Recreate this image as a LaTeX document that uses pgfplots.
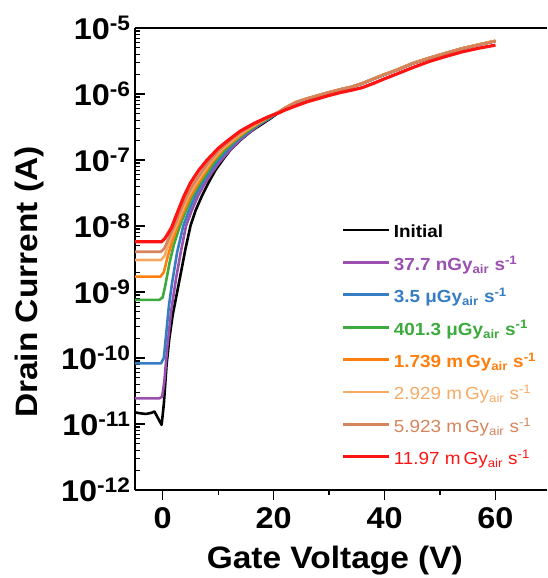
\documentclass[border=0pt]{standalone}
\usepackage{fontspec}
\setmainfont{Liberation Sans}[FakeStretch=1.08]
\usepackage{pgfplots}
\pgfplotsset{compat=1.18}
\definecolor{cpurple}{RGB}{155,80,175}
\definecolor{cblue}{RGB}{55,125,195}
\definecolor{cgreen}{RGB}{60,170,60}
\definecolor{corange}{RGB}{255,127,14}
\definecolor{clorange}{RGB}{248,170,100}
\definecolor{csalmon}{RGB}{214,132,92}
\definecolor{cred}{RGB}{255,20,20}
\begin{document}
\begin{tikzpicture}
\begin{axis}[
  scale only axis, width=412pt, height=462pt,
  ymode=log, log basis y=10,
  xmin=-5, xmax=69.3, ymin=1e-12, ymax=1e-5,
  axis x line=box, axis y line=left,
  every non boxed y axis/.append style={y axis line style={-}},
  axis line style={-, line width=1.6pt},
  xtick pos=left,
  ytick align=inside, xtick align=outside,
  major tick length=10pt, minor tick length=5pt,
  xtick={0,20,40,60}, minor xtick={10,30,50},
  ytick={1e-12,1e-11,1e-10,1e-9,1e-8,1e-7,1e-6,1e-5},
  yticklabels={10\textsuperscript{-12},10\textsuperscript{-11},10\textsuperscript{-10},10\textsuperscript{-9},10\textsuperscript{-8},10\textsuperscript{-7},10\textsuperscript{-6},10\textsuperscript{-5}},
  minor ytick={2e-12,3e-12,4e-12,5e-12,6e-12,7e-12,8e-12,9e-12,
    2e-11,3e-11,4e-11,5e-11,6e-11,7e-11,8e-11,9e-11,
    2e-10,3e-10,4e-10,5e-10,6e-10,7e-10,8e-10,9e-10,
    2e-9,3e-9,4e-9,5e-9,6e-9,7e-9,8e-9,9e-9,
    2e-8,3e-8,4e-8,5e-8,6e-8,7e-8,8e-8,9e-8,
    2e-7,3e-7,4e-7,5e-7,6e-7,7e-7,8e-7,9e-7,
    2e-6,3e-6,4e-6,5e-6,6e-6,7e-6,8e-6,9e-6},
  tick style={line width=1.2pt, black},
  /pgf/number format/assume math mode=true,
  ticklabel style={font=\fontsize{30}{31}\selectfont\bfseries},
  xticklabel style={yshift=-4pt},
  yticklabel style={xshift=-1pt},
  xlabel={Gate Voltage (V)}, ylabel={Drain Current (A)},
  label style={font=\fontsize{31}{32}\selectfont\bfseries},
  x label style={at={(axis description cs:0.485,-0.152)}, anchor=center},
  y label style={at={(axis description cs:-0.255,0.45)}, anchor=center},
  legend style={at={(axis description cs:0.502,0.572)}, anchor=north west,
    draw=none, fill=none, inner sep=0pt, row sep=16.4pt, column sep=3pt,
    font=\fontsize{17.5}{19}\selectfont,
    nodes={inner sep=0pt, text height=12pt, text depth=4pt, anchor=west}},
  legend cell align=left,
  legend image code/.code={\draw[#1, line width=2.8pt] (0pt,4pt) -- (46pt,4pt);},
  every axis plot/.append style={line width=2.6pt, line join=round},
]
% Initial
\addplot[black] coordinates {(-5,1.5e-11)(-4,1.45e-11)(-3,1.42e-11)(-2,1.48e-11)(-1.5,1.55e-11)(-0.2,9.7e-12)(0.2,2e-11)(0.7,8e-11)(1.2,2e-10)(1.8,4.5e-10)(2.5,9e-10)(3.3,2e-9)(4.1,4.5e-9)(5,1e-8)(5.9,1.7e-8)(7.1,2.9e-8)(8.3,4.6e-8)(9.5,7e-8)(10.8,1e-7)(12.2,1.42e-7)(14,2e-7)(16,2.75e-7)(18,3.55e-7)(19.6,4.35e-7)(21,5.3e-7)(22,6e-7)(24,7.4e-7)(26,8.4e-7)(28,9.4e-7)(30,1.05e-6)(32,1.16e-6)(34,1.27e-6)(36,1.44e-6)(38,1.69e-6)(40,1.97e-6)(42,2.27e-6)(45,2.88e-6)(48,3.48e-6)(51,4.13e-6)(54,4.88e-6)(57,5.58e-6)(60,6.33e-6)};
\addlegendentry{\textbf{Initial}}
% 37.7 nGy
\addplot[cpurple] coordinates {(-5,2.45e-11)(-0.6,2.45e-11)(-0.1,2.6e-11)(0.3,4.5e-11)(0.8,1.4e-10)(1.5,5e-10)(2.4,1.6e-9)(3.3,4.2e-9)(4.2,1e-8)(5.2,1.7e-8)(6.4,2.9e-8)(7.6,4.4e-8)(8.9,6.5e-8)(10.2,9.2e-8)(12,1.38e-7)(13.9,2e-7)(15.8,2.7e-7)(17.6,3.5e-7)(19.4,4.35e-7)(21,5.35e-7)(22,6.05e-7)(24,7.45e-7)(26,8.45e-7)(28,9.45e-7)(30,1.055e-6)(32,1.165e-6)(34,1.275e-6)(36,1.445e-6)(38,1.695e-6)(40,1.975e-6)(42,2.275e-6)(45,2.89e-6)(48,3.49e-6)(51,4.14e-6)(54,4.89e-6)(57,5.59e-6)(60,6.34e-6)};
\addlegendentry{\textcolor{cpurple}{\textbf{37.7 nGy\textsubscript{air} s\textsuperscript{-1}}}}
% 3.5 uGy
\addplot[cblue] coordinates {(-5,8.3e-11)(-0.3,8.3e-11)(0.2,1e-10)(0.6,2.2e-10)(1.1,6e-10)(1.7,1.4e-9)(2.6,4e-9)(3.7,1e-8)(4.7,1.7e-8)(5.9,2.9e-8)(7.1,4.4e-8)(8.4,6.5e-8)(9.7,9.2e-8)(11.6,1.4e-7)(13.5,2e-7)(15.5,2.7e-7)(17.4,3.5e-7)(19.3,4.35e-7)(21,5.35e-7)(22,6.1e-7)(24,7.5e-7)(26,8.5e-7)(28,9.5e-7)(30,1.06e-6)(32,1.17e-6)(34,1.28e-6)(36,1.45e-6)(38,1.7e-6)(40,1.98e-6)(42,2.28e-6)(45,2.9e-6)(48,3.5e-6)(51,4.15e-6)(54,4.9e-6)(57,5.6e-6)(60,6.35e-6)};
\addlegendentry{\textcolor{cblue}{\textbf{3.5 μGy\textsubscript{air} s\textsuperscript{-1}}}}
% 401.3 uGy
\addplot[cgreen] coordinates {(-5,7.6e-10)(-0.6,7.6e-10)(0,8.3e-10)(0.5,1.3e-9)(1.2,2.7e-9)(2,5.2e-9)(3.1,1e-8)(4.1,1.65e-8)(5.4,2.9e-8)(6.6,4.3e-8)(8,6.4e-8)(9.3,9.3e-8)(11.2,1.42e-7)(13.2,2e-7)(15.2,2.7e-7)(17.2,3.5e-7)(19.2,4.4e-7)(21,5.35e-7)(22,6.1e-7)(24,7.5e-7)(26,8.5e-7)(28,9.5e-7)(30,1.06e-6)(32,1.17e-6)(34,1.28e-6)(36,1.45e-6)(38,1.7e-6)(40,1.98e-6)(42,2.28e-6)(45,2.9e-6)(48,3.5e-6)(51,4.15e-6)(54,4.9e-6)(57,5.6e-6)(60,6.35e-6)};
\addlegendentry{\textcolor{cgreen}{\textbf{401.3 μGy\textsubscript{air} s\textsuperscript{-1}}}}
% 1.739 mGy
\addplot[corange] coordinates {(-5,1.71e-9)(-0.4,1.71e-9)(0.2,2e-9)(0.8,3.2e-9)(1.6,5.5e-9)(2.7,1e-8)(3.7,1.6e-8)(5,2.8e-8)(6.2,4.2e-8)(7.6,6.4e-8)(9,9.5e-8)(10.9,1.45e-7)(12.9,2e-7)(14.9,2.7e-7)(17,3.5e-7)(19,4.4e-7)(21,5.4e-7)(22,6.15e-7)(24,7.55e-7)(26,8.55e-7)(28,9.55e-7)(30,1.065e-6)(32,1.175e-6)(34,1.285e-6)(36,1.455e-6)(38,1.705e-6)(40,1.99e-6)(42,2.29e-6)(45,2.92e-6)(48,3.52e-6)(51,4.17e-6)(54,4.92e-6)(57,5.63e-6)(60,6.4e-6)};
\addlegendentry{\textcolor{corange}{\textbf{1.739 m\,Gy\textsubscript{air} s\textsuperscript{-1}}}}
% 2.929 mGy
\addplot[clorange] coordinates {(-5,3.05e-9)(-0.3,3.05e-9)(0.3,3.5e-9)(0.9,4.8e-9)(1.6,7e-9)(2.4,1e-8)(3.3,1.55e-8)(4.5,2.7e-8)(5.8,4.2e-8)(7.3,6.5e-8)(8.7,9.5e-8)(10.6,1.45e-7)(12.6,2e-7)(14.6,2.7e-7)(16.9,3.55e-7)(19,4.45e-7)(21,5.4e-7)(22,6.15e-7)(24,7.55e-7)(26,8.55e-7)(28,9.55e-7)(30,1.065e-6)(32,1.175e-6)(34,1.285e-6)(36,1.455e-6)(38,1.705e-6)(40,1.99e-6)(42,2.29e-6)(45,2.92e-6)(48,3.52e-6)(51,4.17e-6)(54,4.92e-6)(57,5.63e-6)(60,6.4e-6)};
\addlegendentry{\textcolor{clorange}{2.929 m\,Gy\textsubscript{air} s\textsuperscript{-1}}}
% 5.923 mGy
\addplot[csalmon] coordinates {(-5,4.08e-9)(-0.3,4.08e-9)(0.3,4.6e-9)(0.9,6e-9)(1.5,7.8e-9)(2.1,1e-8)(3,1.55e-8)(4.2,2.7e-8)(5.5,4.3e-8)(7,6.6e-8)(8.4,9.5e-8)(10.3,1.45e-7)(12.3,2e-7)(14.3,2.7e-7)(16.7,3.55e-7)(19,4.5e-7)(21,5.4e-7)(22,6.1e-7)(24,7.5e-7)(26,8.5e-7)(28,9.5e-7)(30,1.06e-6)(32,1.17e-6)(34,1.28e-6)(36,1.45e-6)(38,1.7e-6)(40,1.98e-6)(42,2.28e-6)(45,2.9e-6)(48,3.5e-6)(51,4.15e-6)(54,4.9e-6)(57,5.6e-6)(60,6.35e-6)};
\addlegendentry{\textcolor{csalmon}{5.923 m\,Gy\textsubscript{air} s\textsuperscript{-1}}}
% 11.97 mGy
\addplot[cred, line width=3.2pt] coordinates {(-5,5.78e-9)(-0.2,5.78e-9)(0.4,6.5e-9)(1.0,7.8e-9)(1.6,9.5e-9)(2.3,1.35e-8)(3,1.9e-8)(3.8,2.8e-8)(5,4.5e-8)(6.5,7e-8)(8,1e-7)(10,1.5e-7)(12,2.05e-7)(14,2.75e-7)(16.5,3.6e-7)(19,4.5e-7)(21,5.2e-7)(22,5.7e-7)(24,6.6e-7)(26,7.6e-7)(28,8.5e-7)(30,9.5e-7)(32,1.05e-6)(34,1.14e-6)(36,1.25e-6)(38,1.45e-6)(40,1.7e-6)(42,1.98e-6)(45,2.5e-6)(48,3.1e-6)(51,3.7e-6)(54,4.35e-6)(57,4.95e-6)(60,5.5e-6)};
\addlegendentry{\textcolor{cred}{11.97 m\,Gy\textsubscript{air} s\textsuperscript{-1}}}
\end{axis}
\pgfresetboundingbox
\path[use as bounding box] ([xshift=-135pt,yshift=-88pt]current axis.south west) rectangle ([yshift=28pt]current axis.north east);
\end{tikzpicture}
\end{document}
